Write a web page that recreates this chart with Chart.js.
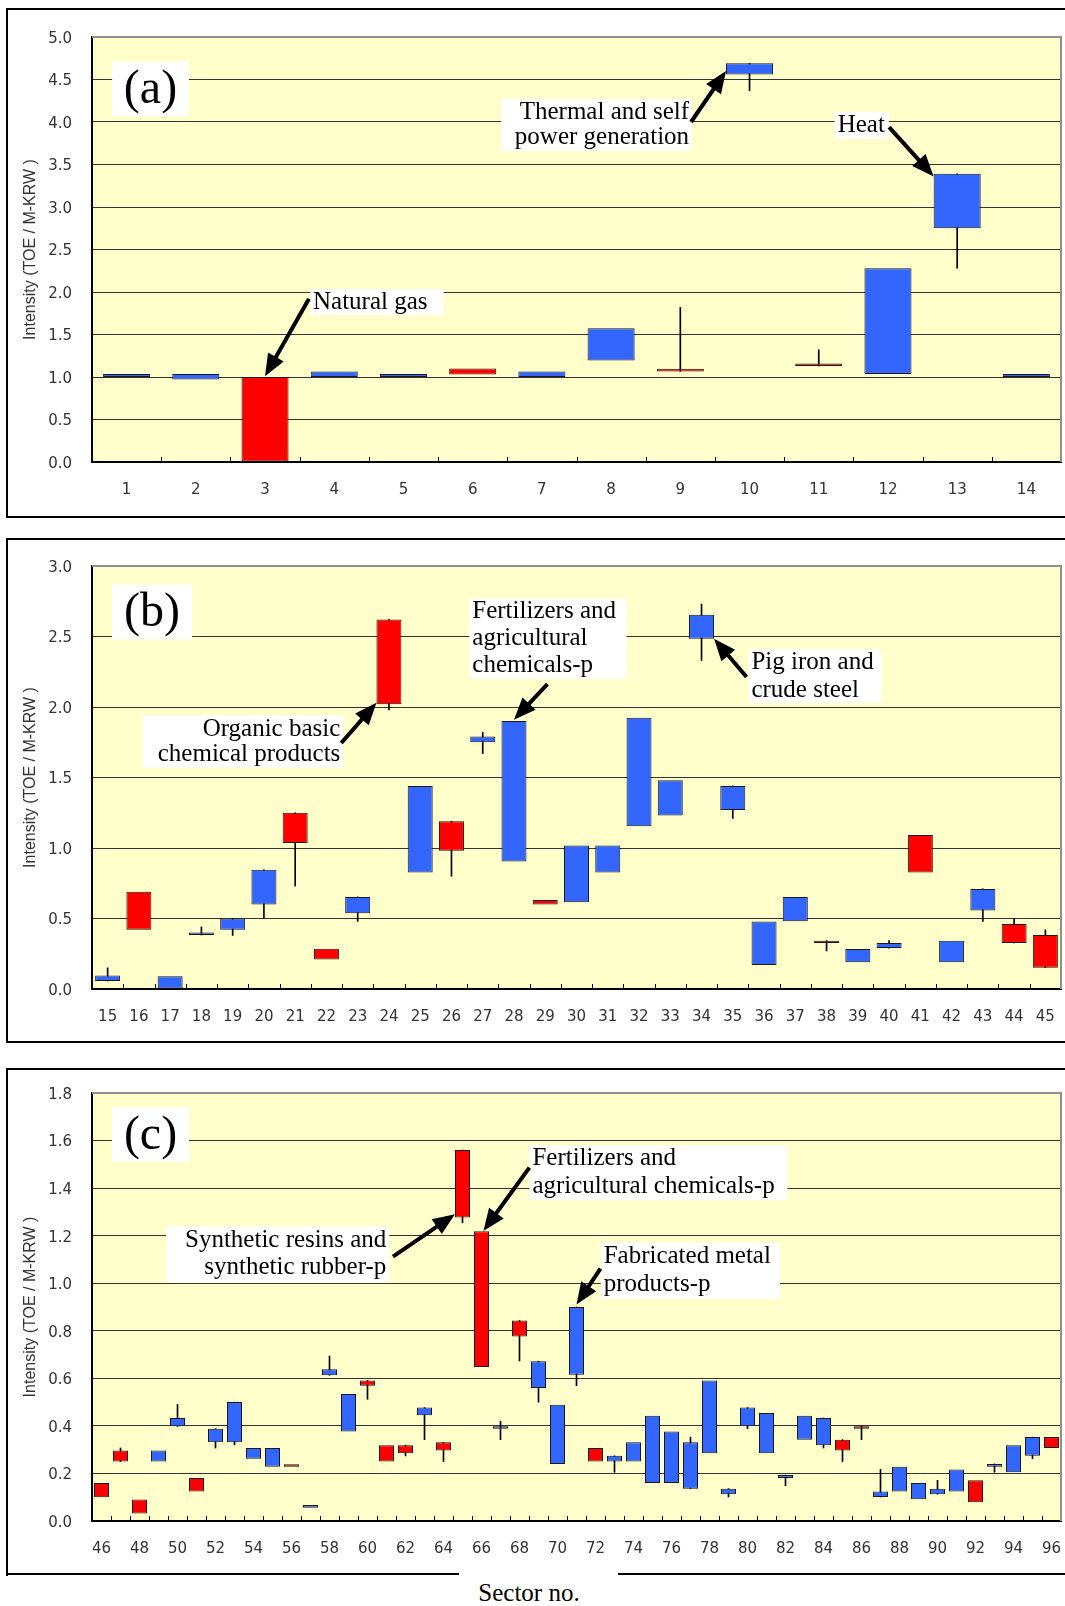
<!DOCTYPE html>
<html>
<head>
<meta charset="utf-8">
<title>Energy intensity by sector</title>
<script src="https://cdn.jsdelivr.net/npm/chart.js@4.4.1/dist/chart.umd.min.js"></script>
<style>
  html, body { margin: 0; padding: 0; background: #fff; overflow: hidden; width: 1065px; height: 1606px; }
  .frame { position: absolute; border: 2px solid #000; box-sizing: border-box; }
  .rule { position: absolute; height: 2px; background: #000; }
  canvas { position: absolute; left: 0; }
  .xtitle { position: absolute; left: 429px; width: 200px; top: 1578px; text-align: center;
            font: 25px "Liberation Serif", "Times New Roman", serif; line-height: 30px; color: #000; }
</style>
</head>
<body>
<div class="frame" style="left:6px;top:8px;width:1061px;height:510px"></div>
<div class="frame" style="left:6px;top:538px;width:1061px;height:505px"></div>
<div class="frame" style="left:6px;top:1068px;width:1061px;height:508px;border-bottom:none"></div>
<div class="rule" style="left:6px;top:1573px;width:453px"></div>
<div class="rule" style="left:618px;top:1573px;width:449px"></div>
<div class="xtitle">Sector no.</div>

<canvas id="panelA" width="1065" height="520" style="top:0px"></canvas>
<canvas id="panelB" width="1065" height="520" style="top:530px"></canvas>
<canvas id="panelC" width="1065" height="546" style="top:1060px"></canvas>

<script>
// ---- Panel (a): sectors 1-14 ----
const sectorsA = [1, 2, 3, 4, 5, 6, 7, 8, 9, 10, 11, 12, 13, 14];
const boxLowA  = [1.00, 0.97, 0.00, 1.00, 1.00, 1.03, 1.00, 1.195, 1.066, 4.56, 1.13, 1.035, 2.75, 1.00];
const boxHighA = [1.035, 1.035, 1.00, 1.065, 1.035, 1.10, 1.065, 1.575, 1.098, 4.69, 1.16, 2.28, 3.39, 1.035];
const minA     = [null, null, null, null, null, null, null, null, null, 4.37, null, null, 2.28, null];
const maxA     = [null, null, null, null, null, null, null, null, 1.82, null, 1.32, null, null, null];
const colourA  = ['B','B','R','B','B','R','B','B','R','B','R','B','B','B'];

// ---- Panel (b): sectors 15-45 ----
const sectorsB = [15, 16, 17, 18, 19, 20, 21, 22, 23, 24, 25, 26, 27, 28, 29, 30,
                  31, 32, 33, 34, 35, 36, 37, 38, 39, 40, 41, 42, 43, 44, 45];
const boxLowB  = [0.057, 0.42, 0.00, 0.383, 0.42, 0.60, 1.036, 0.21, 0.537, 2.02, 0.826, 0.98, 1.75, 0.904, 0.60, 0.615,
                  0.826, 1.155, 1.23, 2.484, 1.27, 0.17, 0.48, 0.326, 0.19, 0.29, 0.826, 0.19, 0.556, 0.326, 0.151];
const boxHighB = [0.095, 0.69, 0.09, 0.40, 0.50, 0.845, 1.25, 0.286, 0.653, 2.62, 1.44, 1.19, 1.79, 1.90, 0.632, 1.017,
                  1.017, 1.923, 1.48, 2.654, 1.44, 0.478, 0.653, 0.343, 0.284, 0.326, 1.093, 0.343, 0.71, 0.461, 0.383];
const minB     = [null, null, null, null, 0.38, 0.50, 0.73, null, 0.48, 1.98, null, 0.80, 1.67, null, null, null,
                  null, null, null, 2.33, 1.21, null, null, 0.27, null, null, null, null, 0.48, null, null];
const maxB     = [0.15, null, null, 0.44, null, null, null, null, null, null, null, null, 1.82, null, null, null,
                  null, null, null, 2.73, null, null, null, null, null, 0.343, null, null, null, 0.50, 0.42];
const colourB  = ['B','R','B','B','B','B','R','R','B','R','B','R','B','B','R','B',
                  'B','B','B','B','B','B','B','R','B','B','R','B','B','R','R'];

// ---- Panel (c): sectors 46-96 ----
const sectorsC = [46, 47, 48, 49, 50, 51, 52, 53, 54, 55, 56, 57, 58, 59, 60, 61, 62, 63, 64, 65, 66,
                  67, 68, 69, 70, 71, 72, 73, 74, 75, 76, 77, 78, 79, 80, 81, 82, 83, 84, 85, 86,
                  87, 88, 89, 90, 91, 92, 93, 94, 95, 96];
const boxLowC  = [0.10, 0.25, 0.032, 0.25, 0.398, 0.124, 0.331, 0.331, 0.262, 0.228, 0.228, 0.056, 0.613, 0.376, 0.569, 0.25, 0.285, 0.445, 0.296, 1.276, 0.648,
                  0.388, 0.776, 0.559, 0.24, 0.615, 0.25, 0.25, 0.25, 0.16, 0.16, 0.136, 0.285, 0.113, 0.398, 0.285, 0.181, 0.342, 0.319, 0.296, 0.388,
                  0.101, 0.124, 0.091, 0.113, 0.124, 0.079, 0.228, 0.205, 0.274, 0.307];
const boxHighC = [0.16, 0.296, 0.09, 0.296, 0.433, 0.181, 0.388, 0.50, 0.307, 0.307, 0.239, 0.067, 0.638, 0.534, 0.591, 0.319, 0.319, 0.477, 0.331, 1.56, 1.219,
                  0.398, 0.843, 0.672, 0.489, 0.90, 0.307, 0.274, 0.331, 0.443, 0.376, 0.331, 0.591, 0.136, 0.477, 0.454, 0.193, 0.443, 0.433, 0.342, 0.398,
                  0.124, 0.228, 0.16, 0.136, 0.217, 0.171, 0.24, 0.319, 0.353, 0.353];
const minC     = [null, null, null, null, null, null, 0.307, 0.32, null, null, null, null, null, null, 0.512, null, 0.274, 0.342, 0.25, 1.254, null,
                  0.342, 0.673, 0.50, null, 0.569, null, 0.205, null, null, null, null, null, 0.101, 0.388, null, 0.148, null, 0.307, 0.25, 0.342,
                  null, null, null, null, null, null, 0.205, null, 0.262, null];
const maxC     = [null, 0.307, null, null, 0.49, null, null, null, null, null, null, null, 0.694, null, null, null, null, null, null, null, null,
                  0.42, null, null, null, null, null, null, null, null, null, 0.353, null, null, null, null, null, null, null, null, null,
                  0.217, null, null, 0.171, null, null, null, null, null, null];
const colourC  = ['R','R','R','B','B','R','B','B','B','B','R','B','B','B','R','R','R','B','R','R','R',
                  'B','R','B','B','B','R','B','B','B','B','B','B','B','B','B','B','B','B','R','R',
                  'B','B','B','B','B','R','B','B','B','R'];

const BLUE = '#3366FF';
const RED = '#FF0000';
const TICK_FONT = { family: '"DejaVu Sans", "Liberation Sans", sans-serif', size: 15 };
const NOTE_FONT = '"Liberation Serif", "Times New Roman", serif';

// Pale yellow plot background, grey frame on top and right
const plotBackground = {
  id: 'plotBackground',
  beforeDraw(chart) {
    const { ctx, chartArea: a } = chart;
    ctx.save();
    ctx.fillStyle = '#FFFFCC';
    ctx.fillRect(a.left, a.top, a.right - a.left, a.bottom - a.top);
    ctx.restore();
  },
  afterDraw(chart) {
    const { ctx, chartArea: a } = chart;
    ctx.save();
    ctx.strokeStyle = '#8f8f8f';
    ctx.lineWidth = 2;
    ctx.beginPath();
    ctx.moveTo(a.left, a.top);
    ctx.lineTo(a.right, a.top);
    ctx.lineTo(a.right, a.bottom);
    ctx.stroke();
    ctx.restore();
  }
};

// Short tick marks pointing into the plot between categories
const innerTicks = {
  id: 'innerTicks',
  afterDatasetsDraw(chart) {
    const { ctx, chartArea: a, scales: { x } } = chart;
    const n = chart.data.labels.length;
    ctx.save();
    ctx.strokeStyle = '#000';
    ctx.lineWidth = 1;
    ctx.beginPath();
    for (let k = 1; k < n; k++) {
      const px = Math.round(x.getPixelForValue(k - 0.5)) + 0.5;
      ctx.moveTo(px, a.bottom);
      ctx.lineTo(px, a.bottom - 5);
    }
    ctx.stroke();
    ctx.restore();
  }
};

// Callout boxes with arrows, positioned in data units (category index, value)
const notes = {
  id: 'notes',
  afterDatasetsDraw(chart, args, opts) {
    const { ctx, scales: { x, y } } = chart;
    const px = i => x.getPixelForValue(i);
    const py = v => y.getPixelForValue(v);
    const items = opts.items || [];
    ctx.save();
    items.forEach(it => {
      const [i0, v0, i1, v1] = it.box;
      const L = px(i0), R = px(i1), T = py(v0), B = py(v1);
      ctx.fillStyle = '#fff';
      ctx.fillRect(L, T, R - L, B - T);
    });
    items.forEach(it => {
      if (!it.arrow) return;
      const x1 = px(it.arrow.from[0]), y1 = py(it.arrow.from[1]);
      const x2 = px(it.arrow.to[0]), y2 = py(it.arrow.to[1]);
      const dx = x2 - x1, dy = y2 - y1, len = Math.hypot(dx, dy);
      const ux = dx / len, uy = dy / len;
      const head = 22, half = 9;
      const bx = x2 - ux * head, by = y2 - uy * head;
      ctx.strokeStyle = '#000';
      ctx.lineWidth = 4;
      ctx.beginPath();
      ctx.moveTo(x1, y1);
      ctx.lineTo(bx + ux * 2, by + uy * 2);
      ctx.stroke();
      ctx.fillStyle = '#000';
      ctx.beginPath();
      ctx.moveTo(x2, y2);
      ctx.lineTo(bx - uy * half, by + ux * half);
      ctx.lineTo(bx + uy * half, by - ux * half);
      ctx.closePath();
      ctx.fill();
    });
    items.forEach(it => {
      const [i0, v0, i1, v1] = it.box;
      const L = px(i0), R = px(i1), T = py(v0), B = py(v1);
      const size = it.size || 25;
      const lh = it.lineHeight || Math.round(size * 1.08);
      ctx.font = size + 'px ' + NOTE_FONT;
      ctx.fillStyle = '#000';
      ctx.textBaseline = 'middle';
      ctx.textAlign = it.align;
      const tx = it.align === 'left' ? L + 3 : it.align === 'right' ? R - 3 : (L + R) / 2;
      const mid = (T + B) / 2;
      it.lines.forEach((s, k) => {
        ctx.fillText(s, tx, mid + (k - (it.lines.length - 1) / 2) * lh + (it.dy || 0));
      });
    });
    ctx.restore();
  }
};

function drawPanel(id, p) {
  const boxes = p.labels.map((_, k) => [p.low[k], p.high[k]]);
  const whiskers = p.labels.map((_, k) =>
    (p.min[k] == null && p.max[k] == null) ? null
      : [p.min[k] == null ? p.low[k] : p.min[k], p.max[k] == null ? p.high[k] : p.max[k]]);
  const fills = p.colour.map(c => c === 'R' ? RED : BLUE);
  const yMax = p.yMax;

  return new Chart(document.getElementById(id), {
    type: 'bar',
    data: {
      labels: p.labels.map(String),
      datasets: [
        { data: whiskers, backgroundColor: '#000', borderWidth: 0, barThickness: 1,
          grouped: false, order: 2 },
        { data: boxes, backgroundColor: fills, borderColor: '#1a1a1a', borderWidth: 1,
          borderSkipped: false, barPercentage: p.barFrac, categoryPercentage: 1,
          grouped: false, order: 1 }
      ]
    },
    options: {
      responsive: false,
      animation: false,
      devicePixelRatio: 1,
      layout: { padding: { top: p.padTop, right: 4, left: 0, bottom: 0 } },
      plugins: {
        legend: { display: false },
        tooltip: { enabled: false },
        notes: { items: p.notes }
      },
      scales: {
        x: {
          type: 'category',
          offset: true,
          grid: { drawOnChartArea: false, drawTicks: false },
          border: { color: '#000', width: 2 },
          ticks: {
            autoSkip: false, maxRotation: 0, minRotation: 0, padding: 19,
            font: TICK_FONT, color: '#333',
            callback: (v, idx) => (idx % p.labelEvery === 0 ? String(p.labels[idx]) : '')
          },
          afterFit: s => { s.height = p.xHeight; s.paddingLeft = 0; s.paddingRight = 0; }
        },
        y: {
          min: 0,
          max: yMax,
          ticks: { stepSize: p.step, padding: 20, labelOffset: 2, font: TICK_FONT, color: '#333',
                   callback: v => Number(v).toFixed(1) },
          grid: { drawTicks: false, lineWidth: 1,
                  color: c => (Math.abs(c.tick.value - yMax) < 1e-6 ? '#8f8f8f' : '#333') },
          border: { color: '#000', width: 2 },
          title: { display: true, text: 'Intensity (TOE / M-KRW )', color: '#333',
                   font: { family: '"Liberation Sans", Arial, sans-serif', size: 16 },
                   padding: { top: 21, bottom: 0 } },
          afterFit: s => { s.width = 92; s.paddingTop = 0; s.paddingBottom = 0; }
        }
      }
    },
    plugins: [plotBackground, innerTicks, notes]
  });
}

drawPanel('panelA', {
  labels: sectorsA, low: boxLowA, high: boxHighA, min: minA, max: maxA, colour: colourA,
  yMax: 5, step: 0.5, barFrac: 0.68, padTop: 37, xHeight: 58, labelEvery: 1,
  notes: [
    { box: [-0.21, 4.71, 0.90, 4.07], lines: ['(a)'], align: 'center', size: 48, dy: 2 },
    { box: [2.65, 2.035, 4.58, 1.73], lines: ['Natural gas'], align: 'left',
      arrow: { from: [2.635, 1.92], to: [2, 1.01] } },
    { box: [5.41, 4.27, 8.17, 3.66], lines: ['Thermal and self', 'power generation'], align: 'right', lineHeight: 25,
      arrow: { from: [8.155, 4.0], to: [8.66, 4.6] } },
    { box: [10.23, 4.12, 11.01, 3.80], lines: ['Heat'], align: 'left',
      arrow: { from: [11.016, 3.94], to: [11.66, 3.36] } }
  ]
});

drawPanel('panelB', {
  labels: sectorsB, low: boxLowB, high: boxHighB, min: minB, max: maxB, colour: colourB,
  yMax: 3, step: 0.5, barFrac: 0.8, padTop: 36, xHeight: 61, labelEvery: 1,
  notes: [
    { box: [0.14, 2.87, 2.70, 2.48], lines: ['(b)'], align: 'center', size: 48, dy: 2 },
    { box: [1.10, 1.94, 7.54, 1.57], lines: ['Organic basic', 'chemical products'], align: 'right', lineHeight: 25,
      arrow: { from: [7.474, 1.745], to: [8.6, 2.03] } },
    { box: [11.57, 2.77, 16.60, 2.20], lines: ['Fertilizers and', 'agricultural', 'chemicals-p'], align: 'left', lineHeight: 26.7,
      arrow: { from: [14.07, 2.163], to: [13.0, 1.91] } },
    { box: [20.50, 2.41, 24.76, 2.03], lines: ['Pig iron and', 'crude steel'], align: 'left', lineHeight: 28,
      arrow: { from: [20.44, 2.213], to: [19.4, 2.484] } }
  ]
});

drawPanel('panelC', {
  labels: sectorsC, low: boxLowC, high: boxHighC, min: minC, max: maxC, colour: colourC,
  yMax: 1.8, step: 0.2, barFrac: 0.79, padTop: 33, xHeight: 85, labelEvery: 2,
  notes: [
    { box: [0.55, 1.74, 4.61, 1.51], lines: ['(c)'], align: 'center', size: 48, dy: 2 },
    { box: [3.40, 1.238, 15.15, 1.006], lines: ['Synthetic resins and', 'synthetic rubber-p'], align: 'right', lineHeight: 27,
      arrow: { from: [15.34, 1.112], to: [18.6, 1.29] } },
    { box: [22.52, 1.58, 36.10, 1.35], lines: ['Fertilizers and', 'agricultural chemicals-p'], align: 'left', lineHeight: 28,
      arrow: { from: [22.52, 1.486], to: [20.1, 1.22] } },
    { box: [26.27, 1.17, 35.70, 0.935], lines: ['Fabricated metal', 'products-p'], align: 'left', lineHeight: 28,
      arrow: { from: [26.26, 1.061], to: [25.0, 0.91] } }
  ]
});
</script>
</body>
</html>
